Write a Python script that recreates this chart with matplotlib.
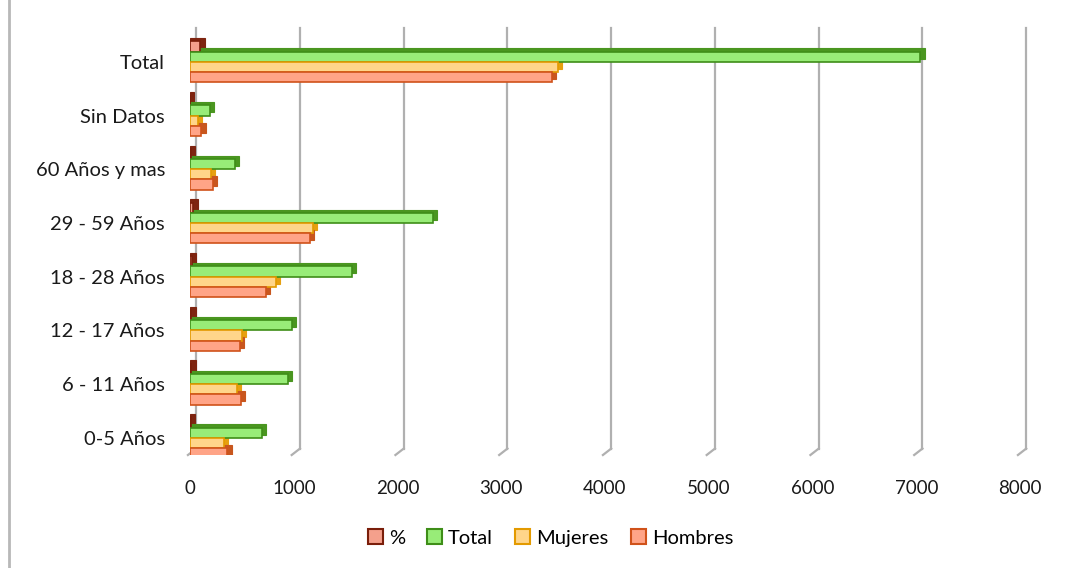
import matplotlib
matplotlib.use("Agg")
import matplotlib.pyplot as plt
from matplotlib.patches import Patch
import numpy as np

plt.rcParams['font.family'] = ['Lato', 'DejaVu Sans']

# datos
categorias = ['0-5 Años', '6 - 11 Años', '12 - 17 Años', '18 - 28 Años',
              '29 - 59 Años', '60 Años y mas', 'Sin Datos', 'Total']
porcentaje = [9.8, 13.4, 13.9, 22.2, 33.2, 6.1, 2.7, 100]
total = [690, 940, 980, 1560, 2340, 430, 190, 7040]
mujeres = [330, 450, 500, 830, 1185, 205, 80, 3550]
hombres = [360, 490, 480, 730, 1155, 225, 110, 3490]
xticks = [0, 1000, 2000, 3000, 4000, 5000, 6000, 7000, 8000]

series = [
    ('%', porcentaje, '#F4A08C', '#7A1E0A', '#7E2410'),
    ('Total', total, '#98EC78', '#3E8E18', '#4A9620'),
    ('Mujeres', mujeres, '#FFD58A', '#E39A00', '#E6A010'),
    ('Hombres', hombres, '#FFA487', '#D0521A', '#C8561E'),
]

fig = plt.figure(figsize=(10.75, 5.68), dpi=100)
ax = fig.add_axes([190 / 1075, 1 - 455 / 568, 830 / 1075, 427 / 568])

y = np.arange(len(categorias))
h = 0.19
offsets = [1.5 * h, 0.5 * h, -0.5 * h, -1.5 * h]
dx, dy = 40, 0.06  # profundidad "3D"

for (nombre, vals, cara, borde, lado), off in zip(series, offsets):
    # caja trasera oscura para simular profundidad
    ax.barh(y + off + dy, np.array(vals) + dx, height=h, color=lado,
            edgecolor=lado, linewidth=0.8, zorder=2)
    ax.barh(y + off, vals, height=h, color=cara, edgecolor=borde,
            linewidth=1.2, zorder=3)

ax.set_xlim(0, 8000)
ax.set_ylim(-0.32, 7.63)
ax.set_xticks(xticks)
ax.set_yticks(y)
ax.set_yticklabels(categorias)
ax.tick_params(axis='x', length=0, pad=18, labelsize=13.5, colors='#1a1a1a')
ax.tick_params(axis='y', length=0, pad=18, labelsize=14.5, colors='#1a1a1a')
for s in ax.spines.values():
    s.set_visible(False)

# lineas de division verticales y piso
for t in xticks:
    ax.plot([t + 60, t + 60], [-0.2, 7.63], color='#B0B0B0', lw=1.6,
            zorder=1, clip_on=False)
    ax.plot([t + 60, t - 20], [-0.2, -0.32], color='#B0B0B0', lw=1.6,
            zorder=1, clip_on=False)

handles = [Patch(facecolor=c, edgecolor=b, linewidth=1.5, label=n)
           for n, _, c, b, _ in series]
fig.legend(handles=handles, loc='center', bbox_to_anchor=(0.512, 1 - 538 / 568),
           ncol=4, frameon=False, fontsize=14.5, handlelength=0.75,
           handleheight=0.75, handletextpad=0.3, columnspacing=1.1)

# borde izquierdo del area del grafico
fig.add_artist(plt.Line2D([9 / 1075, 9 / 1075], [0, 1], color='#B8B8B8',
                          lw=2, transform=fig.transFigure))

fig.savefig('out.png', dpi=100, facecolor='white')
